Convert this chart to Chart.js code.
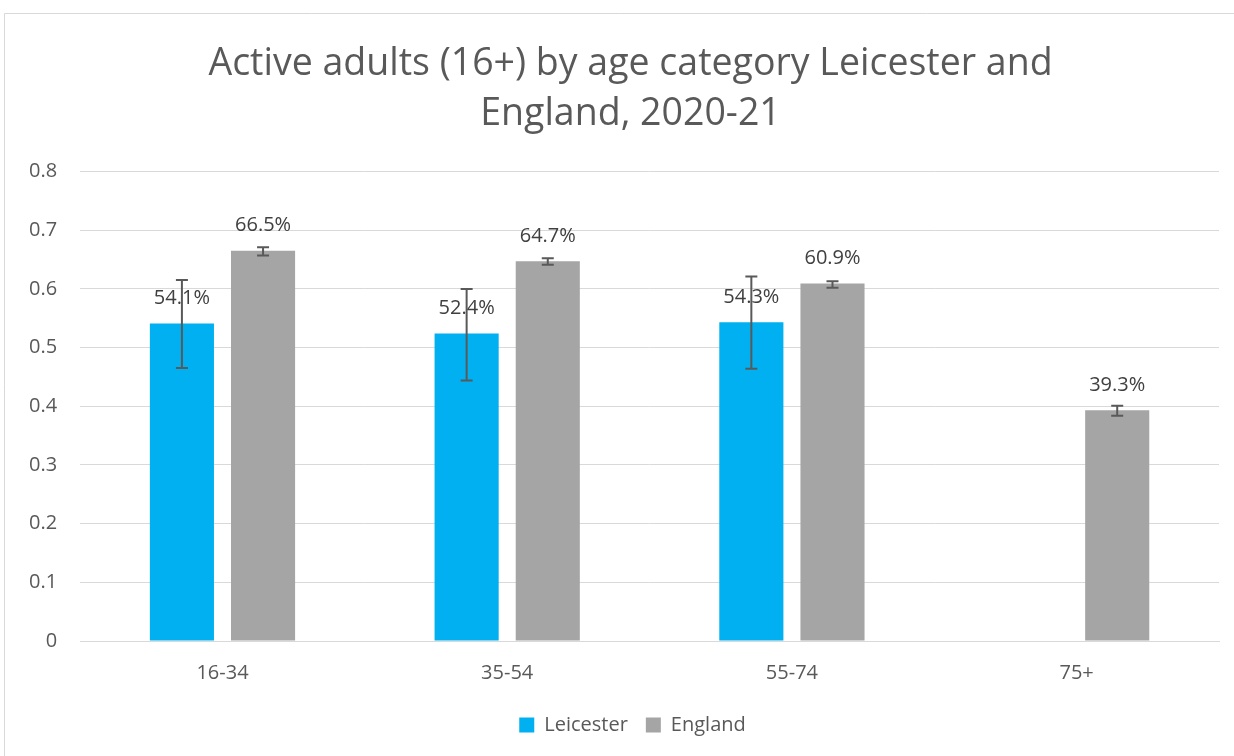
<!DOCTYPE html>
<html>
<head>
<meta charset="utf-8">
<script src="https://cdn.jsdelivr.net/npm/chart.js@4.4.0/dist/chart.umd.min.js"></script>
<style>
  html, body { margin: 0; padding: 0; background: #fff; }
  #wrap { position: absolute; left: 0; top: 0; width: 1234px; height: 756px; }
</style>
</head>
<body>
<div id="wrap"><canvas id="chart" width="1234" height="756"></canvas></div>
<script>
// chart data
var ageGroups = ["16-34", "35-54", "55-74", "75+"];
var leicester = [0.541, 0.524, 0.543, null];
var england = [0.665, 0.647, 0.609, 0.393];
// confidence intervals
var leicesterLow = [0.465, 0.444, 0.464, null];
var leicesterHigh = [0.615, 0.600, 0.621, null];
var englandLow = [0.657, 0.641, 0.602, 0.384];
var englandHigh = [0.671, 0.652, 0.613, 0.401];
var yTicks = [0, 0.1, 0.2, 0.3, 0.4, 0.5, 0.6, 0.7, 0.8];

var fontFam = "'Open Sans', 'Noto Sans', sans-serif";

// frame round the chart, like the excel chart box
var framePlugin = {
  id: "frame",
  afterLayout: function(chart) {
    // title and legend sit a bit right of centre in the original
    chart.legend.left += 20;
    chart.legend.right += 20;
    chart.titleBlock.left += 18;
    chart.titleBlock.right += 18;
  },
  beforeDraw: function(chart) {
    var ctx = chart.ctx;
    ctx.save();
    ctx.fillStyle = "#fff";
    ctx.fillRect(0, 0, chart.width, chart.height);
    ctx.strokeStyle = "#d9d9d9";
    ctx.lineWidth = 1;
    ctx.beginPath();
    ctx.moveTo(4.5, chart.height);
    ctx.lineTo(4.5, 13.5);
    ctx.lineTo(chart.width, 13.5);
    ctx.stroke();
    ctx.restore();
  }
};

// error bars + value labels
var errorBarPlugin = {
  id: "errorBars",
  afterDatasetsDraw: function(chart) {
    var ctx = chart.ctx;
    var y = chart.scales.y;
    var lows = [leicesterLow, englandLow];
    var highs = [leicesterHigh, englandHigh];
    ctx.save();
    chart.data.datasets.forEach(function(ds, i) {
      var meta = chart.getDatasetMeta(i);
      meta.data.forEach(function(bar, j) {
        if (ds.data[j] == null) return;
        // label first, bar line drawn over it like in excel
        ctx.fillStyle = "#404040";
        ctx.font = "20px " + fontFam;
        ctx.textAlign = "center";
        ctx.textBaseline = "middle";
        ctx.fillText((ds.data[j] * 100).toFixed(1) + "%", bar.x, bar.y - 25);

        var lo = lows[i][j], hi = highs[i][j];
        if (lo == null) return;
        var yl = y.getPixelForValue(lo), yh = y.getPixelForValue(hi);
        ctx.strokeStyle = "#595959";
        ctx.lineWidth = 2;
        ctx.beginPath();
        ctx.moveTo(bar.x, yl); ctx.lineTo(bar.x, yh);
        ctx.moveTo(bar.x - 6, yl); ctx.lineTo(bar.x + 6, yl);
        ctx.moveTo(bar.x - 6, yh); ctx.lineTo(bar.x + 6, yh);
        ctx.stroke();
      });
    });
    ctx.restore();
  }
};

var ctx = document.getElementById("chart");
var chart = new Chart(ctx, {
  type: "bar",
  data: {
    labels: ageGroups,
    datasets: [{
      label: "Leicester",
      data: leicester,
      backgroundColor: "#00b0f0",
      barPercentage: 0.79,
      categoryPercentage: 0.57
    }, {
      label: "England",
      data: england,
      backgroundColor: "#a5a5a5",
      barPercentage: 0.79,
      categoryPercentage: 0.57
    }]
  },
  options: {
    responsive: false,
    animation: false,
    layout: { padding: { left: 6, right: 15, top: 39, bottom: 11 } },
    plugins: {
      title: {
        display: true,
        text: ["Active adults (16+) by age category Leicester and", "England, 2020-21"],
        color: "#595959",
        font: { family: fontFam, size: 37.5, weight: "normal", lineHeight: 1.34 },
        padding: { top: 0, bottom: 32 }
      },
      legend: {
        position: "bottom",
        labels: {
          color: "#595959",
          font: { family: fontFam, size: 20 },
          boxWidth: 15,
          boxHeight: 15,
          padding: 18
        }
      },
      tooltip: { enabled: false }
    },
    scales: {
      x: {
        grid: { display: false },
        border: { color: "#d9d9d9" },
        ticks: { color: "#595959", font: { family: fontFam, size: 20 }, padding: 12 }
      },
      y: {
        min: 0,
        max: 0.8,
        afterBuildTicks: function(axis) {
          axis.ticks = yTicks.map(function(v) { return { value: v }; });
        },
        grid: { color: "#d9d9d9", drawTicks: false, lineWidth: 1 },
        border: { display: false },
        ticks: {
          color: "#595959",
          font: { family: fontFam, size: 20 },
          padding: 23,
          callback: function(v) { return String(Math.round(v * 10) / 10); }
        }
      }
    }
  },
  plugins: [framePlugin, errorBarPlugin]
});
</script>
</body>
</html>
